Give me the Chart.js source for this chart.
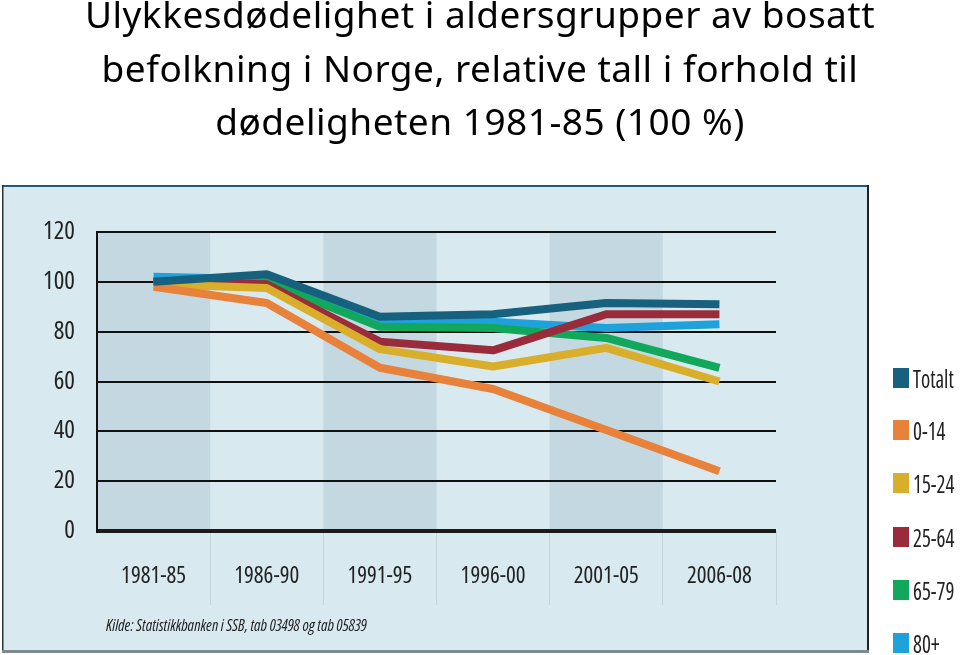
<!DOCTYPE html>
<html><head><meta charset="utf-8">
<script src="https://cdn.jsdelivr.net/npm/chart.js@4"></script>
<style>
html,body{margin:0;padding:0;background:#fff;width:960px;height:655px;overflow:hidden;position:relative}
#c{position:absolute;left:0;top:0}
#title{position:absolute;left:0;top:-13px;width:960px;text-align:center;font-family:"Noto Sans",sans-serif;font-size:37px;letter-spacing:0.5px;line-height:53.5px;color:#000;white-space:nowrap}
#src{position:absolute;left:106px;top:615px;font-family:"Open Sans",sans-serif;font-stretch:condensed;font-style:italic;font-size:17px;line-height:20px;color:#222;transform-origin:left;white-space:nowrap}
#legend{position:absolute;left:893px;top:0;width:67px;height:655px}
.li{position:absolute;left:0;height:20px;white-space:nowrap}
.sw{position:absolute;left:0;top:0;width:16px;height:20px}
.lt{position:absolute;left:20px;top:0;font-family:"Open Sans",sans-serif;font-stretch:condensed;font-size:25px;line-height:20px;color:#222;transform:scaleX(0.84);transform-origin:left}
</style></head>
<body>
<canvas id="c" width="960" height="655"></canvas>
<div id="title">Ulykkesdødelighet i aldersgrupper av bosatt<br>befolkning i Norge, relative tall i forhold til<br>dødeligheten 1981-85 (100 %)</div>
<div id="src">Kilde: Statistikkbanken i SSB, tab 03498 og tab 05839</div>
<div id="legend"></div>
<script>
const categories = ['1981-85', '1986-90', '1991-95', '1996-00', '2001-05', '2006-08'];
const seriesNames = ['Totalt', '0-14', '15-24', '25-64', '65-79', '80+'];
const totalt    = [100, 103, 86, 87, 91.5, 91];
const age0_14   = [98, 91.5, 65.5, 57, 40.5, 24];
const age15_24  = [99, 97.5, 73, 66, 73.5, 60];
const age25_64  = [100, 99, 76, 72.5, 87, 87];
const age65_79  = [100, 100, 82, 81.5, 77.5, 65.5];
const age80plus = [102, 101, 84, 84, 81.5, 83];
const yTicks = [0, 20, 40, 60, 80, 100, 120];

const seriesValues = [totalt, age0_14, age15_24, age25_64, age65_79, age80plus];
const seriesColors = ['#17617f', '#e8823a', '#d8ae2b', '#992b3b', '#12a85b', '#1fa2dc'];
const legendTops = [368, 420, 473, 527, 580, 633];

const panelPlugin = {
  id: 'panel',
  beforeDraw(chart) {
    const { ctx, chartArea: a, scales: { x } } = chart;
    ctx.save();
    ctx.fillStyle = '#d8e9ef';
    ctx.fillRect(3, 186, 865, 465);
    ctx.fillStyle = '#1c5c78'; ctx.fillRect(3, 185, 866, 2);
    ctx.fillStyle = '#333'; ctx.fillRect(2, 185, 1.5, 467);
    ctx.fillStyle = '#222'; ctx.fillRect(867, 185, 2, 467);
    ctx.fillStyle = '#7d8a8f'; ctx.fillRect(2, 650, 867, 3);
    const w = (a.right - a.left) / categories.length;
    ctx.fillStyle = '#c3d8e0';
    categories.forEach((c, i) => {
      if (i % 2 === 0) {
        const cx = x.getPixelForValue(i);
        ctx.fillRect(cx - w / 2, a.top, w, a.bottom - a.top);
      }
    });
    ctx.restore();
  }
};

const tickFamily = "'Open Sans', sans-serif";

new Chart(document.getElementById('c'), {
  type: 'line',
  data: {
    labels: categories,
    datasets: seriesNames.map((name, i) => ({
      label: name,
      data: seriesValues[i],
      borderColor: seriesColors[i],
      backgroundColor: seriesColors[i],
      borderWidth: 8,
      pointRadius: 0,
      pointHoverRadius: 0,
      tension: 0,
      borderJoinStyle: 'round',
      borderCapStyle: 'butt',
      fill: false
    }))
  },
  options: {
    responsive: false,
    devicePixelRatio: 1,
    animation: false,
    events: [],
    layout: { padding: { top: 232, right: 184, bottom: 0, left: 0 } },
    plugins: { legend: { display: false }, title: { display: false }, tooltip: { enabled: false } },
    scales: {
      x: {
        type: 'category',
        offset: true,
        afterFit(s) { s.height = 124; },
        grid: {
          offset: true,
          drawOnChartArea: false,
          drawTicks: true,
          tickLength: 74,
          lineWidth: 1,
          color: (c) => c.index === 0 ? 'rgba(0,0,0,0)' : '#c3d6de'
        },
        border: { display: false },
        ticks: { padding: -42, color: '#222', font: { family: tickFamily, size: 23, weight: 'condensed' } }
      },
      y: {
        min: 0,
        max: 120,
        afterFit(s) { s.width = 97; },
        afterBuildTicks(s) { s.ticks = yTicks.map(v => ({ value: v })); },
        grid: {
          drawTicks: false,
          color: (c) => c.tick && c.tick.value === 0 ? '#1b1b1b' : '#111',
          lineWidth: (c) => c.tick && c.tick.value === 0 ? 4 : 2
        },
        border: { display: true, color: '#111', width: 2 },
        ticks: { padding: 22, color: '#222', font: { family: tickFamily, size: 25, weight: 'condensed' } }
      }
    }
  },
  plugins: [panelPlugin]
});

const lg = document.getElementById('legend');
seriesNames.forEach((name, i) => {
  const item = document.createElement('div');
  item.className = 'li';
  item.style.top = legendTops[i] + 'px';
  const sw = document.createElement('div');
  sw.className = 'sw';
  sw.style.background = seriesColors[i];
  const t = document.createElement('div');
  t.className = 'lt';
  t.textContent = name;
  item.appendChild(sw); item.appendChild(t);
  lg.appendChild(item);
});

const src = document.getElementById('src');
src.style.transform = 'scaleX(' + (261 / src.offsetWidth).toFixed(3) + ')';
</script>
</body></html>
